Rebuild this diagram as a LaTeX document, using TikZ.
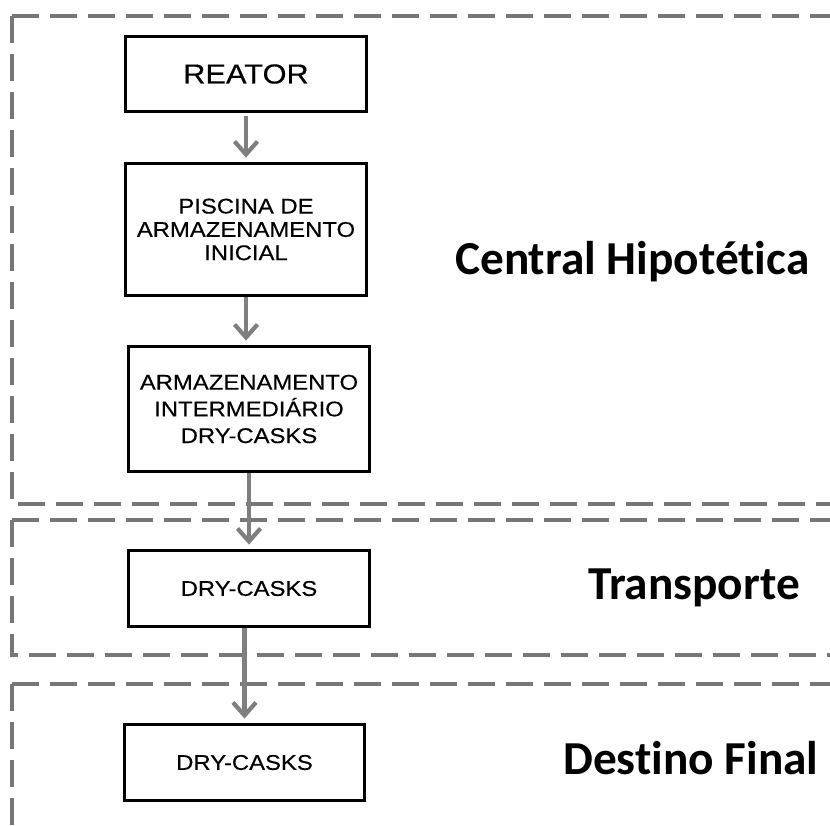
\documentclass[tikz,border=0pt]{standalone}
\usepackage{fontspec}
\setmainfont{Liberation Sans}
\newfontfamily\boxfont{Liberation Sans}[FakeStretch=1.12,FakeBold=0.3]
\newfontfamily\labfont{Carlito}[Ligatures={NoCommon,NoRequired,NoContextual}]
\usetikzlibrary{arrows.meta}
\definecolor{dashgray}{HTML}{777777}
\definecolor{arrgray}{HTML}{7F7F7F}
\tikzset{
  stagebox/.style={draw=black, line width=3.8pt, fill=white, inner sep=0pt, align=center, font=\boxfont},
  zone/.style={draw=dashgray, line width=3.1pt, dash pattern=on 27pt off 11pt},
  flow/.style={draw=arrgray, line width=4.2pt, -{Straight Barb[length=13pt,width=23pt]}, shorten >=4pt},
  zonelabel/.style={anchor=base west, inner sep=0pt, font=\labfont\bfseries\fontsize{47.3}{56}\selectfont}
}
\begin{document}
\begin{tikzpicture}[x=1pt,y=-1pt]
\useasboundingbox (0,0) rectangle (830,825);
\begin{scope}
\clip (0,0) rectangle (830,825);
\draw[zone] (12,16) -- (12,504) -- (860,504);
\draw[zone] (12,16) -- (860,16);
\draw[zone] (12,520) -- (12,655) -- (860,655);
\draw[zone] (12,520) -- (860,520);
\draw[zone] (12,684) -- (12,860);
\draw[zone] (12,684) -- (860,684);
\end{scope}

\node[stagebox, minimum width=241pt, minimum height=75pt, font=\boxfont\fontsize{27.5}{32}\selectfont] (reator) at (246,74) {REATOR};
\node[stagebox, minimum width=241pt, minimum height=132pt, font=\boxfont\fontsize{21.3}{23.3}\selectfont] (piscina) at (246,229.5) {PISCINA DE\\ARMAZENAMENTO\\INICIAL};
\node[stagebox, minimum width=241pt, minimum height=125pt, font=\boxfont\fontsize{21.3}{26.7}\selectfont] (armaz) at (249,409) {ARMAZENAMENTO\\INTERMEDI\'ARIO\\DRY-CASKS};
\node[stagebox, minimum width=241pt, minimum height=76pt, font=\boxfont\fontsize{21.3}{25}\selectfont] (dry1) at (249,588.5) {DRY-CASKS};
\node[stagebox, minimum width=240pt, minimum height=76pt, font=\boxfont\fontsize{21.3}{25}\selectfont] (dry2) at (244.5,762.5) {DRY-CASKS};

\draw[flow, shorten <=3pt] (reator.south) -- (piscina.north);
\draw[flow] (piscina.south) -- (armaz.north -| piscina.south);
\draw[flow] (armaz.south) -- (dry1.north);
\draw[flow] (dry1.south -| dry2.north) -- (dry2.north);

\node[zonelabel] (lcentral) at (455,274) {Central Hipotética};
\node[zonelabel] (ltrans) at (588,599) {Transporte};
\node[zonelabel] (ldest) at (563,774) {Destino Final};
\end{tikzpicture}
\end{document}
